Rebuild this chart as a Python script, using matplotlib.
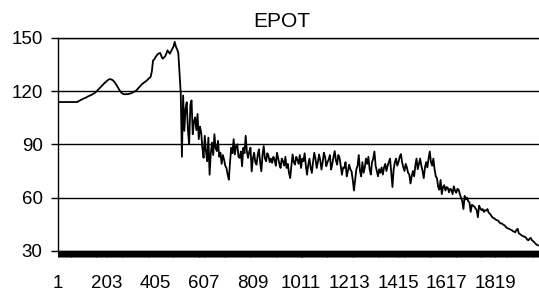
import numpy as np
import matplotlib.pyplot as plt

plt.rcParams['font.family'] = ['Liberation Sans', 'DejaVu Sans']

epot = [
    113.8, 113.8, 113.8, 113.8, 113.8, 113.8, 113.8, 113.8, 113.8, 113.8,
    113.8, 113.8, 113.8, 113.8, 113.8, 113.8, 113.8,
    114.3, 114.6, 115.0, 115.3, 115.7, 116.0, 116.2, 116.6, 117.0, 117.3,
    117.6, 117.9, 118.3, 118.7,
    119.2, 119.8, 120.5, 121.2, 121.9, 122.6, 123.3, 124.0, 124.7, 125.3,
    125.9, 126.4, 126.7, 126.6,
    126.3, 125.8, 125.0, 124.0, 123.0, 121.8, 120.6, 119.6,
    118.9, 118.4, 118.2, 118.2, 118.3, 118.2, 118.4, 118.6, 118.8,
    119.2, 119.5, 119.8, 120.3, 121.0, 121.8, 122.5, 123.3, 124.0, 124.5,
    125.0, 125.5, 126.0, 126.8, 127.4,
    128.0, 131.0, 137.2,
    137.8, 139.0, 140.0, 140.8, 141.2, 141.4, 139.5, 138.2, 138.8, 139.5,
    141.0, 142.9, 142.0, 141.0, 142.5, 143.8, 145.0, 147.7, 145.0, 143.5,
    141.4, 130, 119, 83, 117.5, 97.6, 110, 113.7, 98, 90,
    112, 114.7, 95.7, 103, 105.2, 98, 107.1, 92.9, 100, 96.7,
    88, 82.4, 94.8, 86, 80.5, 93.8, 72.9, 85, 91, 84,
    95.7, 88, 86.2, 92, 83, 85.3, 79, 84, 81.5, 78,
    76.7, 73, 70.1, 80, 88.1, 85, 92.9, 84.3, 89, 90,
    83, 82.4, 86, 77.7, 88.1, 85, 94.8, 86, 82.4, 86,
    88.1, 74.8, 82, 85.3, 80, 78.6, 84, 87.2, 80, 74.8,
    84, 89, 82, 80.5, 85, 83.4, 80, 82, 79.6, 83,
    81.5, 78, 85.3, 82, 79, 76.7, 82, 80.5, 78, 83,
    76.7, 79, 74, 71, 78, 84.3, 80, 78.6, 83, 81.5,
    79, 84, 76.7, 82, 80.5, 85, 78, 72.9, 78.6, 82,
    77, 73.9, 80, 85.3, 82, 76.7, 80, 84.3, 81, 75.8,
    80, 85.3, 83, 77.7, 80, 81.5, 84, 75.8, 79, 83,
    86.2, 81, 78.6, 84, 82.4, 78, 72.9, 77, 76.7, 80,
    72, 75, 78.6, 76, 74.8,
    70, 64, 70, 76,
    78, 84, 75, 72, 80, 74, 77, 82, 79, 83,
    76, 73, 80, 82, 86, 78, 75, 72, 76, 74,
    77, 73, 77, 79, 75, 78, 80, 82, 74, 66,
    76, 80, 82, 78, 80, 83, 84.5, 80, 77, 75,
    79, 77, 74, 73, 68, 72, 75, 72, 78, 82,
    76, 79, 82, 78, 75, 71, 77, 80, 77, 82,
    86, 80, 78, 82, 76, 72, 71, 66, 64.5, 70,
    62, 66, 67, 64, 66, 65.5, 63, 65, 64.5, 62,
    66.4, 64, 62.7, 65, 64.5, 62, 60, 58, 53.6, 61,
    59, 60, 58, 57.3, 52, 56, 55.5, 55, 54, 53,
    49, 55.5, 54, 53, 53.6, 52, 53, 52.7, 53.6, 51.5,
    51, 50, 49, 48.5, 48.2, 47.5, 47.3, 47, 46, 45.5,
    45.5, 44.8, 44.5, 43.8, 43, 42.7, 42.5, 42, 41.8, 41.2,
    40.9, 40.5, 41.8, 42.5, 40, 39.5, 39, 38.5, 38.2, 38,
    37.5, 36.4, 36, 37, 37.3, 36, 35.5, 34.8, 34.0, 33.5,
    33.2,
]
step = 5
x = np.arange(1, 1 + step * len(epot), step)

x_labels = [1, 203, 405, 607, 809, 1011, 1213, 1415, 1617, 1819]
y_ticks = [30, 60, 90, 120, 150]

fig = plt.figure(figsize=(5.39, 2.91), dpi=100)
ax = fig.add_axes([0.1076, 0.1375, 0.8924, 0.7329])

ax.plot(x, epot, color='black', lw=1.3)

ax.set_xlim(1, 2000)
ax.set_ylim(30, 150)
ax.set_yticks(y_ticks)
ax.set_xticks(x_labels)
ax.set_xticks(np.arange(1, 2001, 4), minor=True)
ax.tick_params(axis='x', which='both', length=4.5, width=0.8, pad=13, labelsize=13.5)
ax.tick_params(axis='y', length=5, width=1, pad=6, labelsize=13.5)

ax.yaxis.grid(True, color='black', lw=1)
ax.spines['right'].set_visible(False)
for s in ['left', 'bottom', 'top']:
    ax.spines[s].set_linewidth(1)

ax.set_title('EPOT', fontsize=15, x=0.466, pad=8)

fig.savefig('out.png', dpi=100)
